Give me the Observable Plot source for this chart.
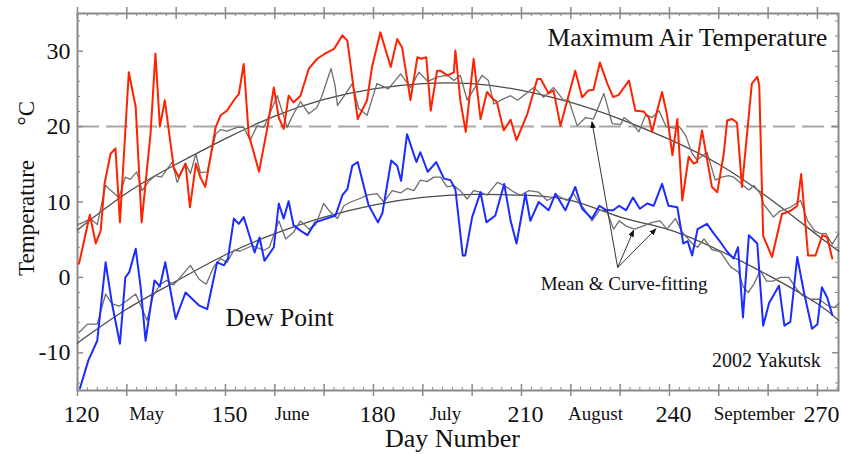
<!DOCTYPE html>
<html>
<head>
<meta charset="utf-8">
<script src="https://cdn.jsdelivr.net/npm/d3@7"></script>
<script src="https://cdn.jsdelivr.net/npm/@observablehq/plot@0.6"></script>
<style>
  html, body { margin: 0; padding: 0; background: #fff; }
</style>
</head>
<body>
<div id="chart"></div>
<script>
// ---- Data: [day number, °C] ----
const maxTemp = [[120.3,1.8],[122.5,8.3],[123.7,4.5],[124.7,6.2],[125.5,12.5],[126.7,16.4],[127.7,17.1],[128.6,7.3],[130.4,27.2],[131.8,22.6],[133.0,7.3],[134.8,19.0],[135.8,29.7],[136.7,20.0],[137.7,23.5],[139.5,14.6],[140.5,13.3],[141.9,15.1],[142.8,9.3],[144.0,15.1],[144.9,13.3],[145.9,12.0],[148.0,19.9],[149.0,21.5],[150.3,22.1],[151.7,23.5],[152.7,24.3],[153.7,28.3],[154.7,19.0],[156.8,14.0],[158.5,19.9],[159.8,25.2],[160.8,21.2],[161.8,19.7],[162.8,24.1],[163.8,23.2],[165.2,24.1],[166.9,27.7],[168.6,29.0],[170.0,29.6],[172.0,30.3],[173.7,32.1],[174.7,31.4],[176.8,21.0],[178.7,23.5],[179.7,27.9],[181.4,32.5],[183.5,27.9],[184.8,31.6],[185.8,30.5],[187.5,23.5],[188.9,29.2],[189.7,29.0],[190.7,29.2],[191.6,22.1],[192.9,27.4],[193.6,27.4],[195.0,26.8],[196.3,27.2],[196.6,30.1],[197.6,23.5],[198.7,19.3],[200.3,29.0],[201.7,21.0],[203.0,24.6],[204.0,23.8],[205.0,23.3],[206.4,19.5],[207.8,20.9],[209.0,18.2],[211.2,21.7],[213.2,26.3],[213.9,26.3],[215.5,24.4],[216.5,24.8],[217.9,20.1],[219.3,23.5],[220.9,27.4],[222.3,23.9],[223.6,24.8],[224.6,24.9],[225.9,28.5],[227.4,25.7],[228.6,23.9],[229.7,24.2],[231.8,26.1],[233.1,22.1],[234.8,22.0],[235.8,21.2],[236.5,19.3],[237.5,22.1],[238.5,24.6],[239.5,21.6],[240.6,16.2],[241.6,21.0],[242.6,10.2],[243.9,16.0],[244.9,15.1],[245.6,15.3],[246.6,19.5],[248.6,12.0],[249.7,11.3],[251.0,16.4],[251.7,20.8],[252.7,21.0],[253.7,20.5],[254.7,12.0],[256.7,25.7],[257.8,26.6],[258.2,25.5],[259.0,5.5],[260.8,2.7],[262.8,8.4],[264.5,8.8],[265.9,9.5],[266.7,13.7],[268.1,2.9],[269.6,2.9],[271.0,5.6],[272.0,5.3],[273.0,2.5]];

const maxMean = [[120.0,7.0],[121.2,7.3],[122.6,7.8],[124.0,7.0],[125.7,12.2],[126.3,11.8],[128.4,10.6],[129.7,13.3],[130.7,13.0],[132.0,14.0],[133.1,11.5],[134.5,12.8],[135.8,13.5],[137.0,13.3],[139.2,15.3],[140.2,12.6],[141.9,15.1],[142.9,13.8],[144.0,16.4],[144.9,13.9],[146.3,14.0],[148.0,19.0],[149.0,19.6],[150.3,19.4],[152.4,19.9],[153.7,19.9],[155.0,18.2],[156.4,20.1],[157.8,19.9],[160.5,24.1],[162.5,19.9],[163.8,21.7],[165.2,23.3],[166.9,21.7],[168.5,22.5],[169.5,24.0],[171.4,27.7],[172.2,25.5],[172.7,22.8],[174.0,24.0],[175.7,25.7],[177.0,22.4],[178.7,21.5],[180.7,25.7],[183.0,25.0],[185.5,27.0],[187.5,25.2],[189.2,27.2],[191.0,26.0],[193.0,26.6],[195.0,26.8],[196.3,26.1],[197.6,26.8],[199.0,23.5],[200.4,25.0],[202.0,26.8],[203.3,26.1],[204.4,23.0],[205.8,23.5],[207.8,24.1],[209.2,23.5],[212.5,25.2],[214.5,23.9],[216.5,25.2],[218.5,23.5],[219.6,23.5],[221.3,20.1],[223.0,21.2],[224.6,21.0],[226.7,24.4],[228.4,20.4],[230.1,20.3],[230.8,21.2],[232.6,20.3],[233.8,19.3],[235.2,21.6],[236.5,21.2],[237.9,22.1],[239.3,20.0],[241.0,19.8],[242.0,20.0],[243.3,18.8],[244.6,16.4],[245.6,15.6],[247.6,16.6],[249.3,12.9],[250.6,13.3],[252.0,13.5],[253.0,13.3],[254.8,12.3],[256.1,11.6],[257.1,12.2],[258.4,11.1],[259.1,9.7],[261.1,8.0],[262.4,8.8],[264.5,9.3],[266.6,10.2],[268.0,7.5],[269.4,6.2],[270.6,5.8],[271.7,5.8],[273.0,4.4],[274.3,5.8]];

const maxFit = [[120,6.3],[130,11.2],[140,15.0],[150,18.4],[160,21.4],[170,23.6],[180,25.0],[190,25.7],[200,25.7],[210,24.8],[220,23.2],[230,21.0],[240,18.3],[250,15.0],[260,10.6],[270,5.6],[274.3,3.5]];

const dewPoint = [[120.5,-14.7],[122.2,-11.0],[124.0,-8.4],[125.7,2.0],[127.0,-3.5],[128.6,-8.8],[129.7,0.0],[130.5,0.7],[131.8,3.8],[132.8,-1.3],[133.8,-8.4],[135.6,-0.4],[136.7,-1.2],[137.8,2.0],[139.9,-5.5],[141.9,-2.0],[144.6,-3.7],[146.3,-4.2],[148.3,2.0],[149.7,1.6],[150.5,2.5],[151.7,7.8],[152.7,7.1],[153.7,8.0],[155.9,3.3],[156.9,5.3],[157.9,2.2],[159.8,4.0],[160.8,9.8],[161.8,7.8],[162.8,10.1],[163.8,6.9],[165.2,6.2],[166.6,5.6],[168.2,7.3],[172.3,8.2],[173.7,10.9],[174.7,11.7],[175.7,14.8],[176.8,15.3],[179.0,9.6],[180.9,7.3],[181.8,8.5],[183.6,15.5],[184.8,14.8],[185.6,12.8],[186.8,19.0],[188.7,15.3],[189.5,16.6],[191.0,14.0],[192.7,15.3],[194.3,13.1],[195.6,12.9],[196.6,11.7],[198.1,2.9],[198.6,2.9],[200.0,8.0],[201.7,11.3],[202.9,7.3],[204.7,8.2],[206.5,12.4],[207.8,7.5],[209.0,4.5],[210.8,11.1],[211.8,7.5],[213.5,10.0],[215.5,8.9],[216.9,11.1],[218.9,8.9],[220.9,12.0],[222.3,9.1],[224.3,7.8],[225.8,9.5],[227.2,8.9],[228.6,8.9],[229.8,9.5],[231.2,8.9],[232.6,10.6],[234.0,9.1],[235.5,9.8],[236.8,9.5],[238.5,12.4],[239.8,9.5],[241.6,9.3],[242.8,4.5],[243.7,4.8],[244.6,2.9],[245.7,6.4],[247.6,7.1],[249.0,5.8],[250.3,4.7],[251.7,3.4],[253.0,2.5],[253.9,4.0],[254.9,-5.3],[256.1,5.6],[257.8,4.5],[259.0,-6.4],[260.2,-3.4],[262.2,-1.1],[263.3,-6.4],[264.5,-5.9],[265.9,2.7],[267.3,-2.1],[268.9,-6.8],[270.0,-6.2],[270.9,-1.3],[272.0,-2.7],[273.0,-5.0]];

const dewMean = [[120.3,-7.3],[122.0,-6.2],[124.0,-6.2],[125.7,-2.2],[127.0,-3.5],[128.5,-3.8],[130.0,-3.1],[131.8,-2.2],[134.1,-5.7],[135.3,-2.5],[136.8,-0.9],[138.1,-0.4],[139.5,-1.0],[141.2,0.3],[142.9,1.6],[144.6,-0.2],[146.1,-0.9],[147.6,1.4],[149.0,2.5],[150.3,2.0],[151.7,3.6],[153.0,3.5],[155.4,4.2],[157.8,3.6],[158.9,4.0],[160.8,7.5],[162.2,5.1],[163.8,6.0],[165.2,7.5],[166.9,6.4],[168.3,7.0],[169.9,9.8],[171.2,8.7],[172.7,7.8],[174.0,9.5],[175.4,10.0],[177.0,10.4],[178.7,10.9],[180.7,11.1],[182.1,10.0],[183.8,11.5],[185.5,11.2],[186.8,11.8],[188.2,11.5],[189.5,12.9],[190.9,12.7],[192.2,13.3],[193.6,13.3],[194.9,12.0],[196.3,12.2],[197.6,11.5],[199.0,10.4],[200.3,11.5],[201.7,11.3],[203.0,10.9],[205.1,12.6],[206.5,12.2],[208.5,11.3],[209.8,10.9],[211.5,11.5],[213.5,11.3],[215.2,10.2],[217.2,10.9],[219.2,10.2],[220.6,11.1],[221.9,9.6],[222.5,9.3],[224.3,7.5],[225.8,8.9],[227.2,8.9],[228.7,6.4],[229.8,7.5],[231.2,6.8],[232.9,6.4],[234.6,6.8],[236.5,7.3],[238.1,7.5],[239.5,6.4],[241.2,7.8],[242.6,6.0],[244.6,4.5],[245.7,4.0],[247.0,5.1],[248.6,3.7],[250.3,3.4],[252.4,1.4],[254.0,0.7],[255.0,-1.3],[256.0,-2.0],[257.1,-0.9],[258.4,0.9],[259.7,-0.5],[261.0,-0.5],[262.5,0.0],[264.2,0.0],[265.5,-1.3],[266.9,-2.4],[268.6,-2.9],[270.3,-2.9],[272.0,-3.7],[273.4,-4.0],[274.3,-3.5]];

const dewFit = [[120,-8.7],[130,-4.2],[140,-0.5],[150,3.0],[160,5.8],[170,8.0],[180,9.6],[190,10.6],[200,11.0],[210,10.9],[220,10.2],[230,8.0],[240,6.3],[250,3.6],[260,0.3],[270,-3.5],[274.3,-5.7]];

// tick labels
const dayTicks = [120, 150, 180, 210, 240, 270];
const monthNames = ["May", "June", "July", "August", "September"];
const monthDays = [134, 163.5, 194.6, 225, 257.2];
const tempTicks = [-10, 0, 10, 20, 30];
const refLine = [20];

// annotation arrows: apex -> tips (day, °C)
const arrowApex = [229.5, 1.3];
const arrowTips = [[224.3, 20.6], [232.7, 6.2], [237.2, 6.4]];

// ---- Layout ----
const W = 842, H = 454;
const mL = 77, mR = 4, mT = 13, mB = 64;
const innerW = W - mL - mR, innerH = H - mT - mB;
const font = "'Liberation Serif', 'Times New Roman', serif";
const axisGray = "#8a8a8a";

const xMajor = d3.range(120, 275, 10);
const xMinor = d3.range(120, 275, 2).filter(d => d % 10 !== 0);
const yMajor = d3.range(-10, 35, 10);
const yMinor = d3.range(-14, 35, 2).filter(d => d % 10 !== 0);

const X = d => d[0], Y = d => d[1];

const chart = Plot.plot({
  width: W, height: H,
  marginLeft: mL, marginRight: mR, marginTop: mT, marginBottom: mB,
  style: {fontFamily: font, background: "#fff", color: "#111", overflow: "visible"},
  x: {domain: [120, 120 + innerW / 4.933], label: null},
  y: {domain: [-15, 35], label: null},
  marks: [
    // reference dashed line at 20 °C
    Plot.ruleY(refLine, {stroke: "#a8a8a8", strokeWidth: 2, strokeDasharray: "22,7"}),
    // ticks
    Plot.tickX(xMajor, {x: d => d, insetTop: innerH - 6, insetBottom: -6, stroke: axisGray, strokeWidth: 1.5}),
    Plot.tickX(xMajor, {x: d => d, insetTop: -6, insetBottom: innerH - 6, stroke: axisGray, strokeWidth: 1.5}),
    Plot.tickX(xMinor, {x: d => d, insetTop: innerH - 3, stroke: axisGray, strokeWidth: 1}),
    Plot.tickX(xMinor, {x: d => d, insetBottom: innerH - 3, stroke: axisGray, strokeWidth: 1}),
    Plot.tickY(yMajor, {y: d => d, insetRight: innerW - 6, stroke: axisGray, strokeWidth: 1.5}),
    Plot.tickY(yMajor, {y: d => d, insetLeft: innerW - 6, stroke: axisGray, strokeWidth: 1.5}),
    Plot.tickY(yMinor, {y: d => d, insetRight: innerW - 3, stroke: axisGray, strokeWidth: 1}),
    Plot.tickY(yMinor, {y: d => d, insetLeft: innerW - 3, stroke: axisGray, strokeWidth: 1}),
    Plot.frame({stroke: axisGray, strokeWidth: 2}),
    // axes labels
    Plot.axisX({ticks: dayTicks, tickSize: 0, tickPadding: 14, dx: 4, fontSize: 24, label: null, tickFormat: d => String(d), fill: "#111"}),
    Plot.axisX({ticks: monthDays, tickSize: 0, tickPadding: 16, fontSize: 19, label: null, tickFormat: d => monthNames[monthDays.indexOf(d)], fill: "#111"}),
    Plot.axisY({ticks: tempTicks, tickSize: 0, tickPadding: 7, fontSize: 24, label: null, tickFormat: d => String(d), fill: "#111"}),
    // data: maximum air temperature
    Plot.line(maxFit, {x: X, y: Y, curve: "natural", stroke: "#4a4a4a", strokeWidth: 1.3}),
    Plot.line(maxMean, {x: X, y: Y, stroke: "#6e6e6e", strokeWidth: 1.3}),
    Plot.line(maxTemp, {x: X, y: Y, stroke: "#ff2200", strokeWidth: 2}),
    // data: dew point
    Plot.line(dewFit, {x: X, y: Y, curve: "natural", stroke: "#4a4a4a", strokeWidth: 1.3}),
    Plot.line(dewMean, {x: X, y: Y, stroke: "#6e6e6e", strokeWidth: 1.3}),
    Plot.line(dewPoint, {x: X, y: Y, stroke: "#1a2cff", strokeWidth: 2}),
    // arrows
    Plot.link(arrowTips, {x1: () => arrowApex[0], y1: () => arrowApex[1], x2: X, y2: Y, stroke: "#333", strokeWidth: 1, markerEnd: "arrow"}),
    // texts
    Plot.text(["Maximum Air Temperature"], {x: [215.3], y: [31.8], textAnchor: "start", fontSize: 25.5, fill: "#111"}),
    Plot.text(["Dew Point"], {x: [150], y: [-5.3], textAnchor: "start", fontSize: 25.5, fill: "#111"}),
    Plot.text(["Mean & Curve-fitting"], {x: [213.9], y: [-0.8], textAnchor: "start", fontSize: 19, fill: "#111"}),
    Plot.text(["2002 Yakutsk"], {x: [248.6], y: [-11.0], textAnchor: "start", fontSize: 20, fill: "#111"}),
    Plot.text(["Day Number"], {x: [196], frameAnchor: "bottom", dy: 56, fontSize: 26, fill: "#111"}),
    Plot.text(["Temperature\u2003\u2002\u00B0C"], {y: [11.8], frameAnchor: "left", textAnchor: "middle", dx: -51, rotate: -90, fontSize: 23, fill: "#111"})
  ]
});

// filled arrowheads
chart.querySelectorAll("marker").forEach(m => {
  m.setAttribute("markerWidth", 12);
  m.setAttribute("markerHeight", 12);
  m.setAttribute("fill", "#111");
  m.setAttribute("stroke", "none");
  const p = m.querySelector("path");
  if (p) p.setAttribute("d", "M-5,-2.4L1,0L-5,2.4Z");
});

document.getElementById("chart").appendChild(chart);
</script>
</body>
</html>
